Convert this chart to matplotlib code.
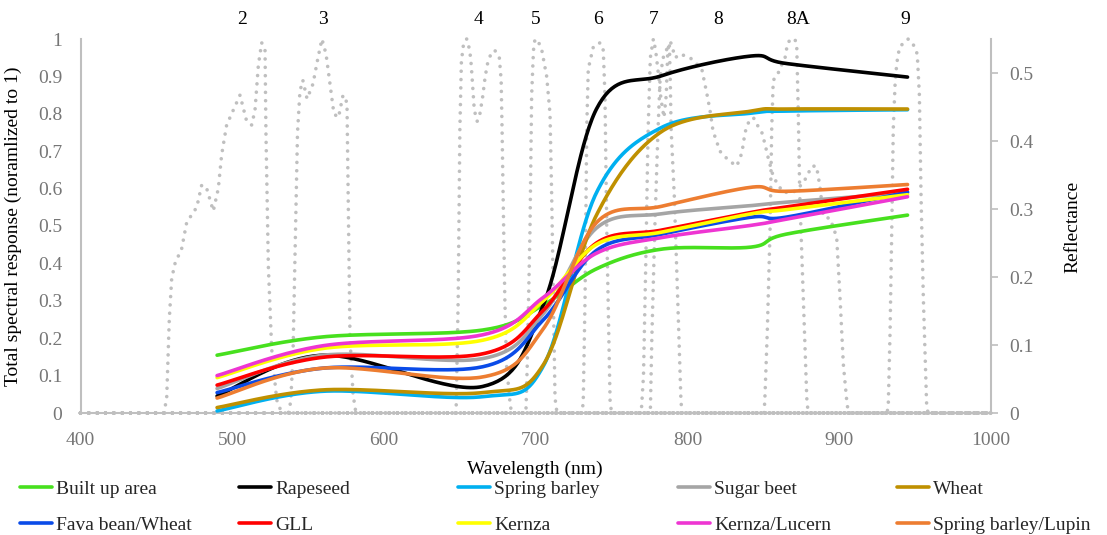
import numpy as np
import matplotlib
matplotlib.use("Agg")
import matplotlib.pyplot as plt
from matplotlib.ticker import FuncFormatter

plt.rcParams["font.family"] = ["Liberation Serif", "DejaVu Serif"]

# Sentinel-2 band centres (nm) where the reflectances were sampled
wl = [490, 560, 665, 705, 740, 783, 842, 865, 945]

series_names = ["Built up area", "Rapeseed", "Spring barley", "Sugar beet", "Wheat",
                "Fava bean/Wheat", "GLL", "Kernza", "Kernza/Lucern", "Spring barley/Lupin"]
series_colors = ["#47E01E", "#000000", "#00B0F0", "#A5A5A5", "#BF9000",
                 "#0A4BE8", "#FF0000", "#FFFF00", "#EE35D2", "#ED7D31"]

built_up = [0.085, 0.112, 0.122, 0.159, 0.212, 0.241, 0.244, 0.263, 0.291]
rapeseed = [0.025, 0.085, 0.039, 0.159, 0.447, 0.496, 0.525, 0.514, 0.494]
spring_barley = [0.003, 0.032, 0.024, 0.069, 0.324, 0.420, 0.441, 0.444, 0.446]
sugar_beet = [0.036, 0.085, 0.080, 0.146, 0.272, 0.293, 0.305, 0.310, 0.324]
wheat = [0.008, 0.034, 0.030, 0.071, 0.291, 0.414, 0.444, 0.447, 0.447]
fava_wheat = [0.030, 0.066, 0.068, 0.137, 0.239, 0.263, 0.288, 0.288, 0.325]
gll = [0.041, 0.082, 0.087, 0.151, 0.250, 0.269, 0.295, 0.303, 0.329]
kernza = [0.052, 0.095, 0.107, 0.165, 0.248, 0.266, 0.293, 0.299, 0.321]
kernza_lucern = [0.055, 0.099, 0.115, 0.170, 0.235, 0.258, 0.276, 0.285, 0.318]
barley_lupin = [0.022, 0.066, 0.053, 0.124, 0.280, 0.304, 0.332, 0.326, 0.336]

series_values = [built_up, rapeseed, spring_barley, sugar_beet, wheat,
                 fava_wheat, gll, kernza, kernza_lucern, barley_lupin]

# normalised spectral response of the bands (left axis)
b2_nm = [400, 455, 456.8, 458.5, 460.1, 462.3, 466.7, 470, 473.3, 476.6, 479.9, 483.2, 487.5,
         490.8, 493, 496.3, 500.7, 505.1, 509.5, 512.8, 515, 517.2, 519.4, 521.6, 522.2,
         523.8, 526, 529.3, 532.6, 1000]
b2_r = [0, 0, 0.04, 0.25, 0.36, 0.40, 0.44, 0.51, 0.53, 0.55, 0.61, 0.60, 0.54, 0.60, 0.69,
        0.77, 0.81, 0.85, 0.78, 0.77, 0.81, 0.93, 0.99, 0.97, 0.75, 0.39, 0.17, 0.035, 0, 0]
b3_nm = [400, 537, 538.5, 540, 541.5, 543, 544.6, 546.5, 549.3, 553.2, 556.5, 559.1, 561.8,
         564.4, 567, 570, 573, 575.6, 576.8, 577.6, 579.6, 581.5, 1000]
b3_r = [0, 0, 0.03, 0.15, 0.45, 0.75, 0.86, 0.89, 0.84, 0.88, 0.95, 1.0, 0.96, 0.88, 0.80,
        0.79, 0.85, 0.83, 0.45, 0.2, 0.05, 0, 0]
b4_nm = [400, 647.5, 648.9, 650, 651, 652.5, 654.5, 656.5, 657.5, 658.5, 659.5, 661.4, 663.2,
         665, 666.7, 668.5, 670.5, 673, 676, 677.2, 677.8, 678.5, 679.6, 680.7, 683, 684, 1000]
b4_r = [0, 0, 0.31, 0.76, 0.94, 0.99, 1.0, 0.97, 0.93, 0.87, 0.81, 0.78, 0.80, 0.845, 0.90,
        0.94, 0.96, 0.97, 0.95, 0.89, 0.76, 0.58, 0.31, 0.13, 0.03, 0, 0]
b5_nm = [400, 693.5, 694.4, 696.2, 697.3, 698.5, 699.5, 702, 704, 707.2, 709.4, 710.5, 711.6,
         712.7, 714, 1000]
b5_r = [0, 0, 0.13, 0.49, 0.85, 0.97, 1.0, 0.99, 0.97, 0.90, 0.80, 0.58, 0.31, 0.04, 0, 0]
b6_nm = [400, 730.5, 731.3, 732.5, 733.6, 734.6, 738, 742.4, 744.5, 745.6, 746.8, 748.5, 749,
         750, 1000]
b6_r = [0, 0, 0.03, 0.31, 0.76, 0.92, 0.98, 0.99, 0.97, 0.85, 0.49, 0.13, 0.03, 0, 0]
b7_nm = [400, 769.5, 771, 772.5, 774, 775.5, 777.5, 779, 781, 782.5, 784.5, 786, 787, 788,
         788.6, 789.2, 791.3, 793.5, 795.7, 796.5, 1000]
b7_r = [0, 0, 0.1, 0.4, 0.75, 0.95, 1.0, 0.97, 0.9, 0.84, 0.79, 0.85, 0.97, 0.99, 0.9, 0.76,
        0.58, 0.31, 0.03, 0, 0]
b8_nm = [400, 775.5, 776.5, 778.5, 780.5, 782, 784, 786, 789, 792, 795, 801.7, 809.4, 812.7,
         814.8, 816.6, 818, 821.4, 824.7, 829, 832.4, 835, 836.4, 837.9, 840, 843.4, 846.7,
         849, 851, 853.3, 856, 858.8, 863.1, 869.7, 876.3, 882, 885, 887.3, 889.5, 894,
         898.3, 900.5, 902.7, 905, 906, 1000]
b8_r = [0, 0, 0.2, 0.5, 0.75, 0.9, 0.95, 0.97, 0.99, 0.95, 0.96, 0.95, 0.92, 0.855, 0.81,
        0.76, 0.74, 0.70, 0.685, 0.67, 0.66, 0.685, 0.71, 0.75, 0.775, 0.79, 0.765, 0.75,
        0.72, 0.68, 0.64, 0.615, 0.59, 0.59, 0.615, 0.66, 0.66, 0.605, 0.525, 0.52, 0.47,
        0.31, 0.13, 0.03, 0, 0]
b8a_nm = [400, 850.5, 851, 852.6, 854.4, 855.5, 856.5, 858.8, 862, 864.3, 866, 868.5, 870.8,
          872, 873, 874, 876.3, 878.6, 879.5, 1000]
b8a_r = [0, 0, 0.04, 0.22, 0.49, 0.76, 0.89, 0.90, 0.93, 0.95, 0.99, 1.0, 1.0, 0.98, 0.8,
         0.58, 0.31, 0.04, 0, 0]
b9_nm = [400, 931.5, 932.3, 933.5, 934.6, 935.6, 936.8, 937.9, 939.6, 942.2, 945.5, 948.8,
         951.4, 952.8, 953.9, 955.4, 957.6, 958.5, 1000]
b9_r = [0, 0, 0.02, 0.22, 0.49, 0.76, 0.88, 0.935, 0.975, 0.99, 1.0, 0.985, 0.96, 0.85, 0.58,
        0.31, 0.02, 0, 0]

bands = [(b2_nm, b2_r), (b3_nm, b3_r), (b4_nm, b4_r), (b5_nm, b5_r), (b6_nm, b6_r),
         (b7_nm, b7_r), (b8_nm, b8_r), (b8a_nm, b8a_r), (b9_nm, b9_r)]
band_names = ["2", "3", "4", "5", "6", "7", "8", "8A", "9"]
band_label_nm = [506.7, 560, 662.6, 700, 740.8, 777.5, 820, 873, 943.3]


def smooth(x, y, n=40):
    # excel style smoothed line: bezier segments with 1/6 neighbour tangents
    p = np.column_stack([x, y]).astype(float)
    p = np.vstack([p[0], p, p[-1]])
    t = np.linspace(0, 1, n)[:, None]
    out = []
    for i in range(1, len(p) - 2):
        p0, p1, p2, p3 = p[i - 1], p[i], p[i + 1], p[i + 2]
        c1 = p1 + (p2 - p0) / 6
        c2 = p2 - (p3 - p1) / 6
        seg = ((1 - t) ** 3) * p1 + 3 * ((1 - t) ** 2) * t * c1 + 3 * (1 - t) * t ** 2 * c2 + t ** 3 * p2
        out.append(seg if i == 1 else seg[1:])
    out = np.vstack(out)
    return out[:, 0], out[:, 1]


W, H = 1107, 535
fig = plt.figure(figsize=(W / 100, H / 100), dpi=100)
ax = fig.add_axes([80.5 / W, 1 - 413 / H, (991 - 80.5) / W, (413 - 39) / H])

grey = "#BFBFBF"
tick_col = "#767676"

for nm, r in bands:
    ax.plot(nm, r, color=grey, lw=2.6, linestyle=(0, (0.01, 2.3)),
            dash_capstyle="round", solid_capstyle="round", clip_on=False)

ax.set_xlim(400, 1000)
ax.set_ylim(0, 1)
ax.set_xticks(np.arange(400, 1001, 100))
ax.set_yticks(np.arange(0, 1.01, 0.1))
ax.yaxis.set_major_formatter(FuncFormatter(lambda v, p: "%g" % round(v, 2)))
for s in ["top", "right"]:
    ax.spines[s].set_visible(False)
for s in ["left", "bottom"]:
    ax.spines[s].set_color(grey)
    ax.spines[s].set_linewidth(1.5)
ax.tick_params(axis="y", length=0, pad=13, labelsize=14, labelcolor=tick_col)
ax.tick_params(axis="x", length=0, pad=14, labelsize=14, labelcolor=tick_col)
ax.set_xlabel("Wavelength (nm)", fontsize=14, color="#000000")
ax.xaxis.set_label_coords(0.499, -0.127)
ax.set_ylabel("Total spectral response (noramlized to 1)", fontsize=14, color="#000000")
ax.yaxis.set_label_coords(-0.064, 0.5)

for name, x in zip(band_names, band_label_nm):
    ax.text(x, 1.051, name, ha="center", va="center", fontsize=14, color="#000000")

ax2 = ax.twinx()
handles = []
for name, col, vals in zip(series_names, series_colors, series_values):
    xs, ys = smooth(wl, vals)
    h, = ax2.plot(xs, ys, color=col, lw=2.6, solid_capstyle="round", label=name)
    handles.append(h)

ax2.set_ylim(0, 0.55)
ax2.set_yticks(np.arange(0, 0.51, 0.1))
ax2.yaxis.set_major_formatter(FuncFormatter(lambda v, p: "%g" % round(v, 2)))
for s in ["top", "left", "bottom"]:
    ax2.spines[s].set_visible(False)
ax2.spines["right"].set_color(grey)
ax2.spines["right"].set_linewidth(1.5)
ax2.tick_params(axis="y", length=5, width=1.2, color=grey, pad=8, labelsize=14,
                labelcolor=tick_col)
ax2.set_ylabel("Reflectance", fontsize=14, color="#000000")
ax2.yaxis.set_label_coords(1.081, 0.497)

# legend: 5 equal-width columns, two rows
col_x = [20, 239, 458, 678, 897]
for j, x in enumerate(col_x):
    pair = [handles[j], handles[j + 5]]
    fig.legend(pair, [h.get_label() for h in pair], loc="upper left",
               bbox_to_anchor=(x / W, 1 - 480 / H), frameon=False, fontsize=14,
               handlelength=1.65, handletextpad=0.2, labelspacing=0.95,
               borderpad=0, borderaxespad=0, labelcolor="#262626")

fig.savefig("out.png", dpi=100)
